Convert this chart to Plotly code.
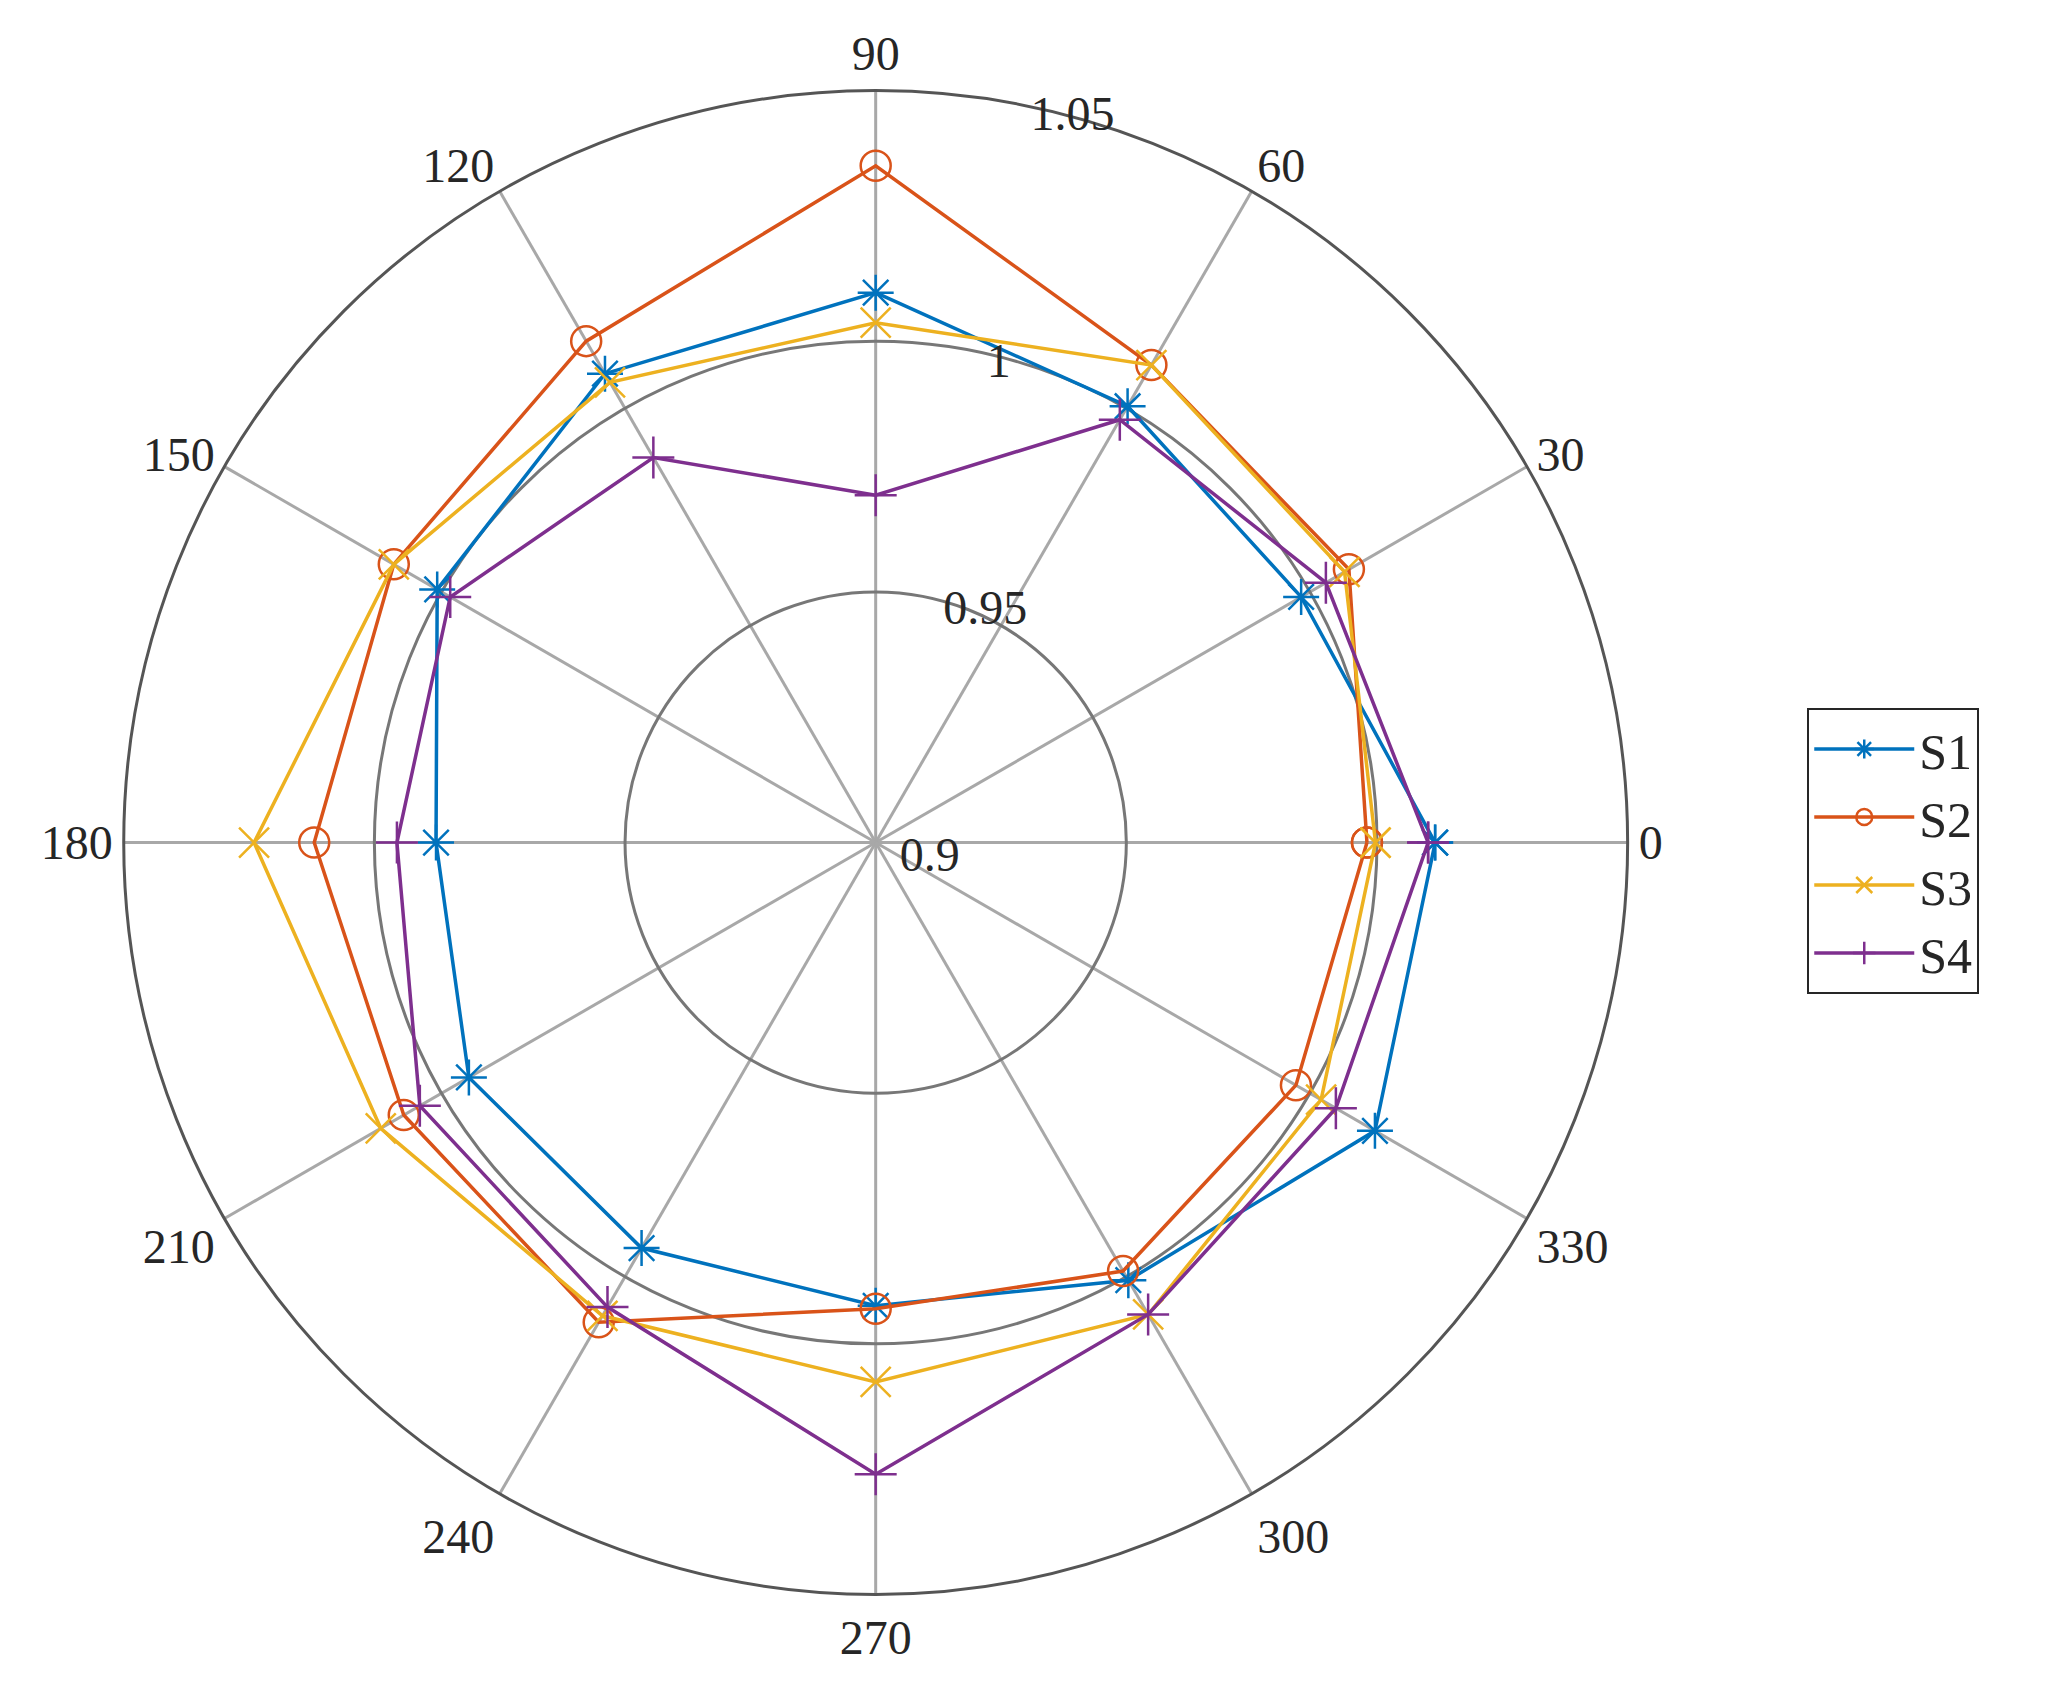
import plotly.graph_objects as go

angles = [0, 30, 60, 90, 120, 150, 180, 210, 240, 270, 300, 330, 0]
s1 = [1.0116, 0.998, 1.0005, 1.0097, 1.008, 1.001, 0.9877, 0.9937, 0.9934, 0.9924, 1.0008, 1.015]
s2 = [0.998, 1.009, 1.010, 1.035, 1.0155, 1.011, 1.012, 1.0087, 1.0105, 0.993, 0.9987, 0.9968]
s3 = [0.9997, 1.008, 1.010, 1.0037, 1.006, 1.011, 1.024, 1.014, 1.009, 1.0076, 1.0087, 1.0026]
s4 = [1.0102, 1.0037, 0.9974, 0.9693, 0.9887, 0.998, 0.9955, 1.005, 1.007, 1.026, 1.0087, 1.006]
names = ["S1", "S2", "S3", "S4"]
colors = ["#0072BD", "#D95319", "#EDB120", "#7E2F8E"]
symbols = ["asterisk-open", "circle-open", "x-thin-open", "cross-thin-open"]

fig = go.Figure()
for name, vals, c, sym in zip(names, [s1, s2, s3, s4], colors, symbols):
    fig.add_trace(go.Scatterpolar(
        r=vals + vals[:1], theta=angles, name=name, mode="lines+markers",
        line=dict(color=c, width=3.5),
        marker=dict(symbol=sym, size=30, color=c, line=dict(color=c, width=2.5))))

fig.update_layout(
    width=2061, height=1686, paper_bgcolor="white",
    margin=dict(l=0, r=0, t=0, b=0),
    font=dict(family="Liberation Serif", size=48, color="#262626"),
    polar=dict(
        domain=dict(x=[0.056, 0.786], y=[0.059, 0.951]),
        bgcolor="white",
        angularaxis=dict(direction="counterclockwise", rotation=0,
                         tickvals=list(range(0, 360, 30)),
                         ticktext=[str(a) for a in range(0, 360, 30)],
                         showline=True, linecolor="#555555", linewidth=3,
                         gridcolor="#a8a8a8", gridwidth=2.5, ticks=""),
        radialaxis=dict(range=[0.9, 1.05], tickvals=[0.9, 0.95, 1, 1.05],
                        ticktext=["0.9", "0.95", "1", "1.05"],
                        angle=80, tickangle=80, showline=False, ticks="",
                        gridcolor="#777777", gridwidth=2.5)),
    legend=dict(x=0.873, y=0.5, xanchor="left", yanchor="middle",
                bordercolor="#262626", borderwidth=2, bgcolor="white",
                font=dict(size=50), itemwidth=100, tracegroupgap=10))

fig.write_html("out.html")
